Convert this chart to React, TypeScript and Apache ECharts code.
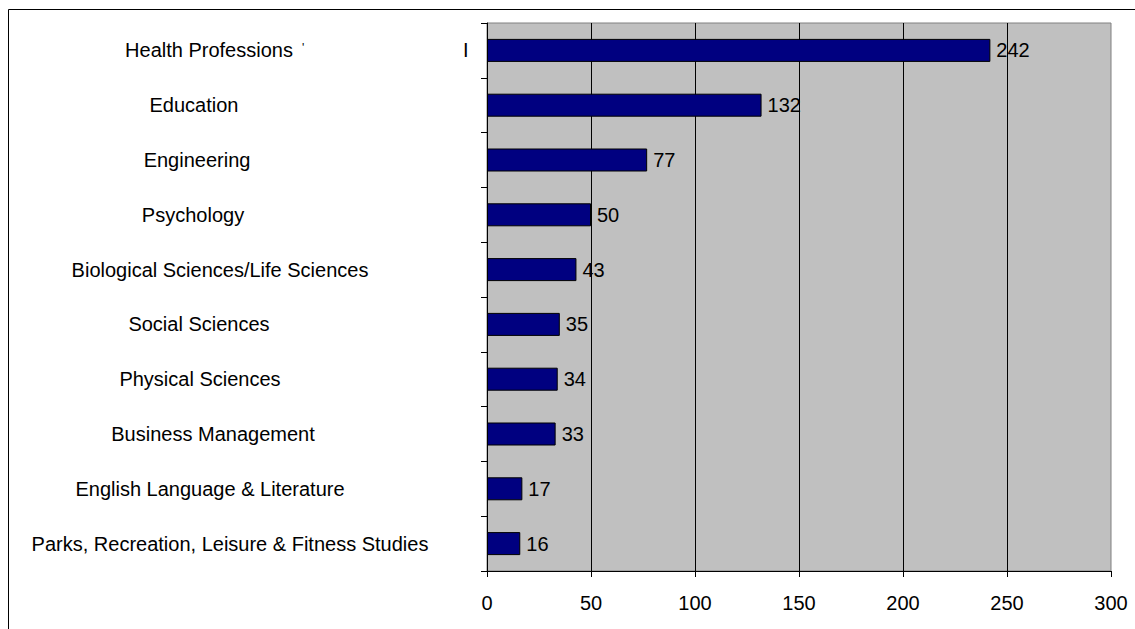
import React, { useEffect, useRef } from "react";
import * as echarts from "echarts";

const categories = [
  "Health Professions",
  "Education",
  "Engineering",
  "Psychology",
  "Biological Sciences/Life Sciences",
  "Social Sciences",
  "Physical Sciences",
  "Business Management",
  "English Language & Literature",
  "Parks, Recreation, Leisure & Fitness Studies",
];
const values = [242, 132, 77, 50, 43, 35, 34, 33, 17, 16];
const xTicks = { min: 0, max: 300, interval: 50 };

// horizontal offset (px) of each category label's centre, layout only
const labelShift = [9, -6, -3, -7, 20, -1, 0, 13, 10, 30];

export default function App() {
  const ref = useRef<HTMLDivElement>(null);
  useEffect(() => {
    if (!ref.current) return;
    const chart = echarts.init(ref.current, null, { renderer: "svg" });
    const font = "'Liberation Sans', Arial, sans-serif";
    const rich: Record<string, any> = {};
    labelShift.forEach((s, i) => {
      rich["r" + i] = {
        fontSize: 20,
        fontFamily: font,
        color: "#000",
        padding: s >= 0 ? [0, 0, 0, 2 * s] : [0, -2 * s, 0, 0],
      };
    });
    chart.setOption({
      animation: false,
      backgroundColor: "#ffffff",
      textStyle: { fontFamily: font },
      grid: {
        left: 487,
        top: 23,
        right: 24,
        bottom: 58,
        show: true,
        backgroundColor: "#C0C0C0",
        borderColor: "#808080",
        borderWidth: 1,
      },
      xAxis: {
        type: "value",
        min: xTicks.min,
        max: xTicks.max,
        interval: xTicks.interval,
        axisLine: { show: true, lineStyle: { color: "#000", width: 1 } },
        axisTick: { show: true, length: 6, lineStyle: { color: "#000" } },
        axisLabel: { color: "#000", fontSize: 20, fontFamily: font, margin: 22 },
        splitLine: {
          show: true,
          showMinLine: false,
          showMaxLine: false,
          lineStyle: { color: "#000", width: 1 },
        },
      },
      yAxis: {
        type: "category",
        data: categories,
        inverse: true,
        axisLine: { show: true, lineStyle: { color: "#000", width: 1 } },
        axisTick: { show: true, length: 6, inside: false, lineStyle: { color: "#000" } },
        axisLabel: {
          color: "#000",
          fontSize: 20,
          fontFamily: font,
          align: "center",
          margin: 287,
          formatter: (v: string, idx: number) => {
            const i = categories.indexOf(v);
            return "{r" + (i >= 0 ? i : idx) + "|" + v + "}";
          },
          rich,
        },
        splitLine: { show: false },
      },
      series: [
        {
          type: "bar",
          data: values,
          barWidth: 23,
          itemStyle: { color: "#000080", borderColor: "#000", borderWidth: 1 },
          label: {
            show: true,
            position: "right",
            distance: 6,
            color: "#000",
            fontSize: 20,
            fontFamily: font,
          },
        },
      ],
      graphic: [
        {
          type: "rect",
          silent: true,
          shape: { x: 8.5, y: 9.5, width: 1200, height: 700 },
          style: { fill: "none", stroke: "#000", lineWidth: 1 },
          z: 100,
        },
        {
          type: "text",
          silent: true,
          x: 463,
          y: 40,
          style: { text: "I", fontSize: 20, fontFamily: font, fill: "#000" },
        },
        {
          type: "text",
          silent: true,
          x: 302,
          y: 42,
          style: { text: "'", fontSize: 12, fontFamily: font, fill: "#000" },
        },
      ],
    });
    return () => chart.dispose();
  }, []);
  return (
    <div
      ref={ref}
      style={{ position: "fixed", left: 0, top: 0, width: 1135, height: 629 }}
    />
  );
}
